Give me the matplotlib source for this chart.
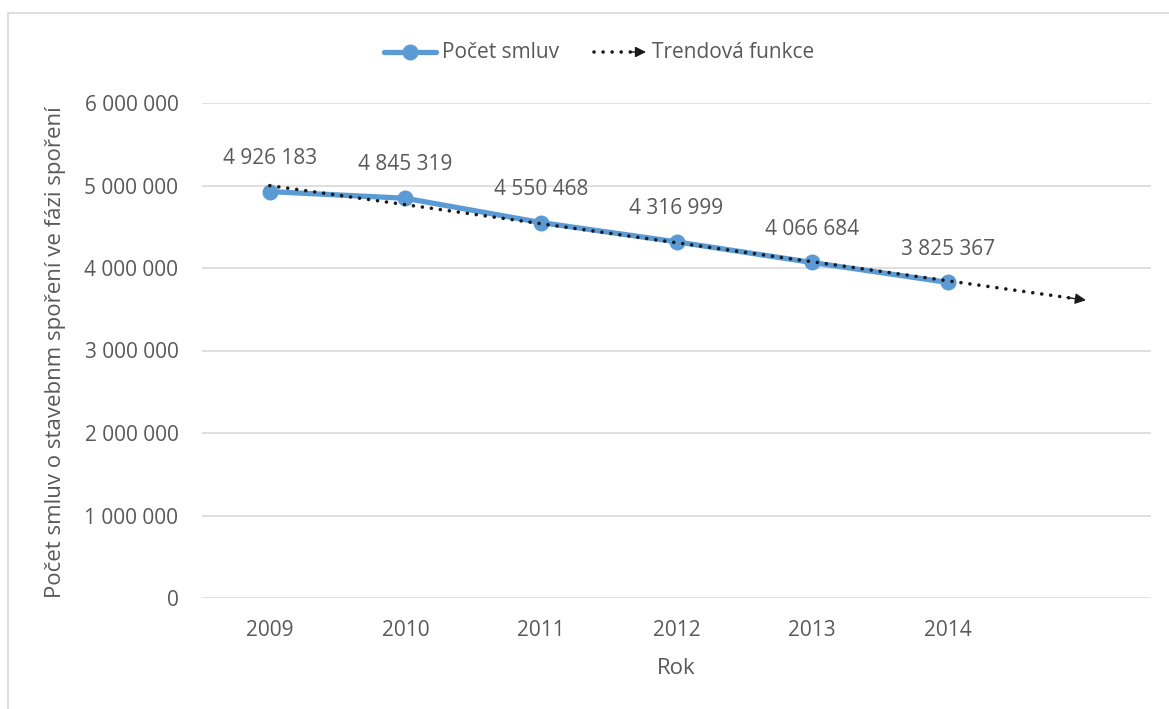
import numpy as np
import matplotlib
matplotlib.use("Agg")
import matplotlib.pyplot as plt
from matplotlib.lines import Line2D
from matplotlib.patches import Rectangle, FancyArrowPatch

years = ["2009", "2010", "2011", "2012", "2013", "2014"]
contracts = [4926183, 4845319, 4550468, 4316999, 4066684, 3825367]
yticks = [0, 1000000, 2000000, 3000000, 4000000, 5000000, 6000000]
series_name = "Počet smluv"
trend_name = "Trendová funkce"
ylabel = "Počet smluv o stavebnm spoření ve fázi spoření"
xlabel = "Rok"

plt.rcParams['font.family'] = ['Open Sans', 'DejaVu Sans']
TXT = '#595959'
BLUE = '#5B9BD5'
GRID = '#D9D9D9'
FS = 15
LFS = 16

W, H = 1169, 709
fig = plt.figure(figsize=(W/100, H/100), dpi=100)
ax = fig.add_axes([202/W, 1-598/H, (1151-202)/W, (598-103)/H])

x = np.arange(len(years))
ax.plot(x, contracts, color=BLUE, lw=3.8, marker='o', ms=10.5, zorder=3,
        solid_joinstyle='round', solid_capstyle='round')

# linear trend, forecast one period forward
coef = np.polyfit(x, contracts, 1)
xt = np.array([0, len(years)])
yt = np.polyval(coef, xt)
ax.plot(xt, yt, color='#1a1a1a', lw=2.6, linestyle=(0, (0.01, 2.5)),
        dash_capstyle='round', zorder=4, clip_on=False)
d = 0.12
ax.annotate('', xy=(xt[1]+0.02, np.polyval(coef, xt[1]+0.02)),
            xytext=(xt[1]-d, np.polyval(coef, xt[1]-d)),
            arrowprops=dict(arrowstyle='-|>', color='#1a1a1a', lw=1,
                            mutation_scale=16, shrinkA=0, shrinkB=0),
            zorder=5, annotation_clip=False)

for xi, v in zip(x, contracts):
    s = f"{v:,}".replace(",", " ")
    ax.annotate(s, (xi, v), xytext=(0, 24), textcoords='offset points',
                ha='center', va='center', fontsize=FS, color=TXT)

ax.set_xlim(-0.5, len(years) + 0.5)
ax.set_ylim(0, 6000000)
ax.set_xticks(x)
ax.set_xticklabels(years)
ax.set_yticks(yticks)
ax.set_yticklabels([f"{v:,}".replace(",", " ") for v in yticks])
ax.tick_params(length=0, labelsize=FS, labelcolor=TXT)
ax.tick_params(axis='y', pad=17)
ax.tick_params(axis='x', pad=16)
for sp in ax.spines.values():
    sp.set_visible(False)
ax.grid(axis='y', color=GRID, lw=1.2)
ax.set_axisbelow(True)

fig.text(676/W, 1-668/H, xlabel, ha='center', va='center', fontsize=LFS, color=TXT)
fig.text(56/W, 1-352/H, ylabel, ha='center', va='center', rotation=90,
         fontsize=LFS, color=TXT)

# chart border
fig.add_artist(Rectangle((8/W, -0.1), 1.2, 1-13/H+0.1, transform=fig.transFigure,
                         fill=False, edgecolor=GRID, lw=1.2))

# legend
ly = 1-52/H
fig.add_artist(Line2D([384/W, 436/W], [ly, ly], color=BLUE, lw=3.8,
                      solid_capstyle='round', transform=fig.transFigure))
fig.add_artist(Line2D([410/W], [ly], color=BLUE, marker='o', ms=10.5,
                      transform=fig.transFigure))
fig.text(442/W, ly, series_name, ha='left', va='center', fontsize=FS, color=TXT)
fig.add_artist(Line2D([594/W, 632/W], [ly, ly], color='#1a1a1a', lw=2.6,
                      linestyle=(0, (0.01, 2.5)), dash_capstyle='round',
                      transform=fig.transFigure))
fig.add_artist(FancyArrowPatch((630/W, ly), (646/W, ly), transform=fig.transFigure,
                               arrowstyle='-|>', color='#1a1a1a', lw=1,
                               mutation_scale=16, shrinkA=0, shrinkB=0))
fig.text(652/W, ly, trend_name, ha='left', va='center', fontsize=FS, color=TXT)

fig.savefig('out.png', dpi=100)
